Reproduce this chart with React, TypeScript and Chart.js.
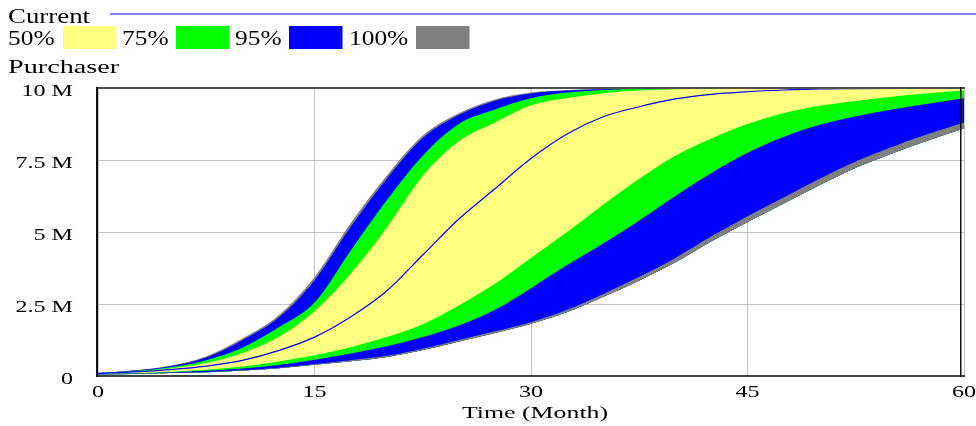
import React, { useEffect, useRef } from "react";
import { Chart, registerables } from "chart.js";

Chart.register(...registerables);

// ---- data (values in millions of purchasers) ----
const months = [0, 2.5, 5, 7.5, 10, 12.5, 15, 17.5, 20, 22.5, 25, 27.5, 30, 32.5, 35, 37.5, 40, 42.5, 45, 47.5, 50, 52.5, 55, 57.5, 60];

const max100 = [0.1, 0.2, 0.36, 0.68, 1.3, 2.1, 3.43, 5.3, 6.95, 8.35, 9.12, 9.6, 9.84, 9.93, 9.97, 9.99, 10, 10, 10, 10, 10, 10, 10, 10, 10];
const upper95 = [0.1, 0.19, 0.34, 0.64, 1.24, 2.02, 3.32, 5.17, 6.84, 8.26, 9.06, 9.56, 9.81, 9.91, 9.96, 9.98, 9.99, 10, 10, 10, 10, 10, 10, 10, 10];
const upper75 = [0.1, 0.17, 0.3, 0.55, 0.98, 1.68, 2.55, 4.35, 6.1, 7.65, 8.75, 9.25, 9.64, 9.84, 9.93, 9.97, 9.99, 10, 10, 10, 10, 10, 10, 10, 10];
const upper50 = [0.09, 0.15, 0.26, 0.45, 0.8, 1.35, 2.25, 3.55, 5.15, 6.95, 8.15, 8.8, 9.4, 9.65, 9.82, 9.91, 9.96, 9.98, 10, 10, 10, 10, 10, 10, 10];
const lower50 = [0.08, 0.1, 0.15, 0.22, 0.33, 0.5, 0.72, 1.0, 1.35, 1.8, 2.45, 3.2, 4.1, 5.0, 5.95, 6.85, 7.65, 8.25, 8.75, 9.12, 9.38, 9.55, 9.7, 9.82, 9.91];
const lower75 = [0.07, 0.09, 0.13, 0.18, 0.26, 0.38, 0.56, 0.78, 1.03, 1.35, 1.75, 2.3, 3.05, 3.85, 4.6, 5.4, 6.25, 7.05, 7.75, 8.3, 8.72, 9.02, 9.25, 9.45, 9.64];
const lower95 = [0.06, 0.08, 0.11, 0.14, 0.2, 0.29, 0.42, 0.55, 0.7, 0.95, 1.25, 1.55, 1.87, 2.3, 2.85, 3.45, 4.1, 4.85, 5.55, 6.2, 6.85, 7.45, 7.95, 8.4, 8.8];
const min100 = [0.05, 0.07, 0.1, 0.13, 0.19, 0.27, 0.39, 0.51, 0.66, 0.9, 1.2, 1.49, 1.81, 2.22, 2.75, 3.32, 3.95, 4.68, 5.35, 5.99, 6.63, 7.23, 7.73, 8.18, 8.59];
const current = [0.09, 0.14, 0.22, 0.34, 0.54, 0.88, 1.35, 2.05, 2.95, 4.2, 5.45, 6.5, 7.55, 8.4, 9.0, 9.35, 9.62, 9.78, 9.87, 9.93, 9.97, 9.98, 9.99, 10, 10];

const xTicks = [0, 15, 30, 45, 60];
const yTicks = [0, 2.5, 5, 7.5, 10];
const yTickLabels = ["0", "2.5 M", "5 M", "7.5 M", "10 M"];
const xTickLabels = ["0", "15", "30", "45", "60"];
const legendLabels = ["50%", "75%", "95%", "100%"];
const seriesName = "Current";
const yTitle = "Purchaser";
const xTitle = "Time (Month)";

// ---- styles ----
const YELLOW = "#FFFF80";
const GREEN = "#00FF00";
const BLUE = "#0000FF";
const GRAY = "#808080";
const legendColors = [YELLOW, GREEN, BLUE, GRAY];
const FONT = '"Liberation Serif", "Times New Roman", serif';

function stretchText(
  ctx: CanvasRenderingContext2D,
  text: string,
  x: number,
  y: number,
  size: number,
  sx: number,
  align: "left" | "right" | "center"
) {
  ctx.save();
  ctx.font = `${size}px ${FONT}`;
  const w = ctx.measureText(text).width * sx;
  const x0 = align === "left" ? x : align === "right" ? x - w : x - w / 2;
  ctx.translate(x0, y);
  ctx.scale(sx, 1);
  ctx.fillStyle = "#000";
  ctx.textAlign = "left";
  ctx.textBaseline = "alphabetic";
  ctx.fillText(text, 0, 0);
  ctx.restore();
}

const vensimPlugin = {
  id: "vensimDecor",
  afterDraw(chart: any) {
    const ctx: CanvasRenderingContext2D = chart.ctx;
    const { left, right, top, bottom } = chart.chartArea;
    const xs = chart.scales.x;
    const ys = chart.scales.y;

    // frame
    ctx.save();
    ctx.fillStyle = "#505050";
    ctx.fillRect(left - 1, top - 1, right - left + 2, 2);
    ctx.fillStyle = "#404040";
    ctx.fillRect(left - 1, bottom - 1, right - left + 2, 2);
    ctx.fillStyle = "#101010";
    ctx.fillRect(left - 2, top - 1, 2, bottom - top + 2);
    ctx.fillRect(right - 4, top - 1, 1.5, bottom - top + 2);
    ctx.restore();

    // header
    stretchText(ctx, seriesName, 8, 22.7, 20.5, 1.31, "left");
    ctx.save();
    ctx.fillStyle = BLUE;
    ctx.fillRect(110, 13.5, 976 - 110, 1);
    ctx.restore();

    const textX = [8, 122, 235, 349];
    const boxX = [63, 176, 289, 416];
    legendLabels.forEach((lab, i) => {
      stretchText(ctx, lab, textX[i], 45, 20, 1.27, "left");
      ctx.save();
      ctx.fillStyle = legendColors[i];
      ctx.fillRect(boxX[i], 26, 53.5, 23);
      ctx.restore();
    });

    stretchText(ctx, yTitle, 8, 72.7, 19.2, 1.47, "left");

    // y tick labels
    ys.ticks.forEach((t: any, i: number) => {
      const py = ys.getPixelForValue(t.value);
      const idx = yTicks.indexOf(t.value);
      const lab = idx >= 0 ? yTickLabels[idx] : String(t.value);
      stretchText(ctx, lab, 73, py + 7.5, 16.6, 1.45, "right");
    });

    // x tick labels
    xs.ticks.forEach((t: any) => {
      const px = xs.getPixelForValue(t.value);
      const idx = xTicks.indexOf(t.value);
      const lab = idx >= 0 ? xTickLabels[idx] : String(t.value);
      stretchText(ctx, lab, px, 397, 16.6, 1.45, "center");
    });

    stretchText(ctx, xTitle, (left + right) / 2 + 4, 418, 17, 1.52, "center");
  },
};

export default function App() {
  const canvasRef = useRef<HTMLCanvasElement | null>(null);

  useEffect(() => {
    if (!canvasRef.current) return;
    const toXY = (vals: number[]) => months.map((m, i) => ({ x: m, y: vals[i] }));

    const band = (data: number[], color: string, fill: string | boolean, order: number) => ({
      data: toXY(data),
      borderColor: "rgba(0,0,0,0)",
      borderWidth: 0,
      backgroundColor: color,
      fill,
      order,
      pointRadius: 0,
      cubicInterpolationMode: "monotone" as const,
    });

    const chart = new Chart(canvasRef.current, {
      type: "line",
      data: {
        datasets: [
          band(min100, "rgba(0,0,0,0)", false, 0), // 0
          band(lower95, GRAY, "-1", 1), // 1
          band(lower75, BLUE, "-2", 2), // 2
          band(lower50, GREEN, "-3", 3), // 3
          band(upper50, YELLOW, "-4", 4), // 4
          band(upper75, GREEN, "-5", 5), // 5
          band(upper95, BLUE, "-6", 6), // 6
          band(max100, GRAY, "-7", 7), // 7
          {
            data: toXY(current),
            borderColor: BLUE,
            borderWidth: 1.2,
            fill: false,
            order: -1,
            pointRadius: 0,
            cubicInterpolationMode: "monotone" as const,
          },
        ] as any,
      },
      options: {
        responsive: true,
        maintainAspectRatio: false,
        animation: false,
        layout: { padding: { top: 88, right: 12, left: 0, bottom: 0 } },
        plugins: {
          legend: { display: false },
          tooltip: { enabled: false },
          title: { display: false },
        },
        scales: {
          x: {
            type: "linear",
            min: 0,
            max: 60,
            z: 1,
            ticks: { display: false },
            afterBuildTicks: (s: any) => {
              s.ticks = xTicks.map((v) => ({ value: v }));
            },
            grid: { color: "#c4c4c4", lineWidth: 1, drawTicks: false },
            border: { display: false },
            afterFit: (s: any) => {
              s.height = 50;
            },
          },
          y: {
            type: "linear",
            min: 0,
            max: 10,
            z: 1,
            ticks: { display: false },
            afterBuildTicks: (s: any) => {
              s.ticks = yTicks.map((v) => ({ value: v }));
            },
            grid: { color: "#c4c4c4", lineWidth: 1, drawTicks: false },
            border: { display: false },
            afterFit: (s: any) => {
              s.width = 98;
            },
          },
        },
      } as any,
      plugins: [vensimPlugin],
    });

    return () => chart.destroy();
  }, []);

  return (
    <div style={{ position: "fixed", left: 0, top: 0, width: 976, height: 426, background: "#fff" }}>
      <canvas ref={canvasRef} />
    </div>
  );
}
